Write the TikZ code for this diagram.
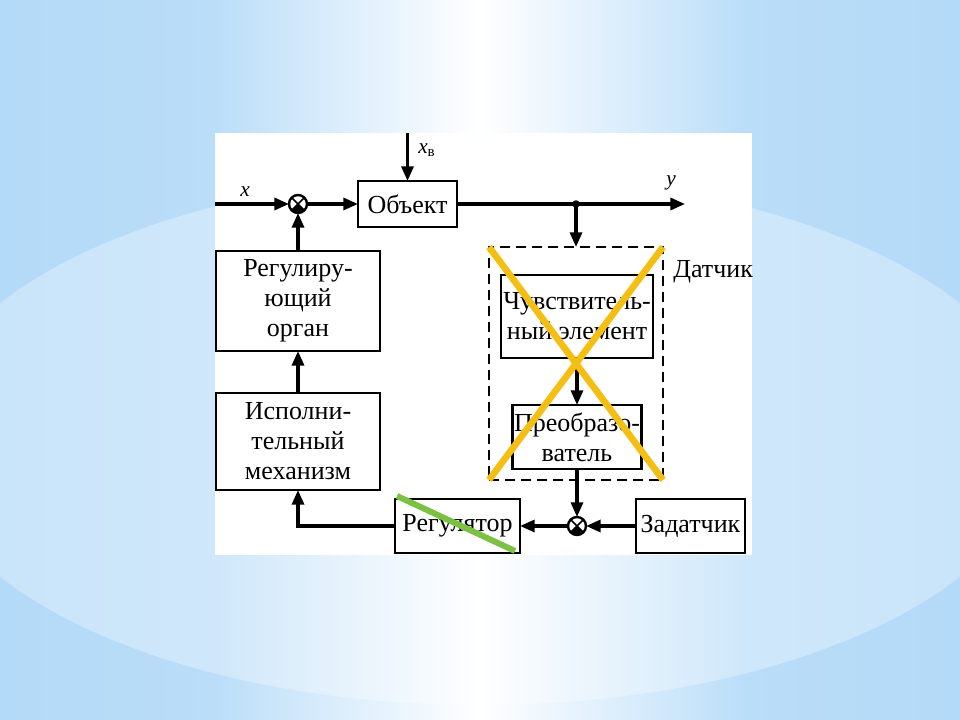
\documentclass[tikz,border=0pt]{standalone}
\usepackage{fontspec}
\setmainfont{Liberation Serif}
\usetikzlibrary{arrows.meta,calc}
\definecolor{bgb}{HTML}{A3D2F6}
\definecolor{xyel}{HTML}{F4BE12}
\definecolor{xgrn}{HTML}{7CC144}
\pgfdeclarehorizontalshading{bgsh}{100bp}{color(0bp)=(bgb); color(36bp)=(bgb!75!white); color(50bp)=(white); color(64bp)=(bgb!75!white); color(100bp)=(bgb)}
\begin{document}
\begin{tikzpicture}[x=0.75pt,y=-0.75pt,
  blk/.style={draw, line width=2.2pt, fill=white, align=center, inner sep=0pt, outer sep=0pt, font=\fontsize{19.5pt}{22.5pt}\selectfont},
  sumj/.style={circle, draw, line width=1.8pt, fill=white, minimum size=13.5pt, inner sep=0pt, outer sep=0pt},
  conn/.style={line width=2.4pt},
  arr/.style={conn, -{Triangle[length=11pt,width=9pt]}},
  lbl/.style={font=\fontsize{16pt}{18pt}\selectfont\itshape, inner sep=0pt},
  strike/.style={line width=5pt}]
\useasboundingbox (0,0) rectangle (960,720);
\begin{scope}
\clip (0,0) rectangle (960,720);
\shade[shading=bgsh] (0,0) rectangle (960,720);
\fill[white, opacity=0.3] (480,440) ellipse [x radius=560, y radius=265];
\end{scope}
\fill[white] (215,133) rectangle (752,555);

% dashed sensor frame
\node[draw, dash pattern=on 7.5pt off 4.5pt, line width=2.2pt, minimum width=130.5pt, minimum height=174.75pt, inner sep=0pt, outer sep=0pt] (dat) at (576,363.5) {};
\node[anchor=west, inner sep=0pt, font=\fontsize{19.5pt}{22.5pt}\selectfont] (datl) at (673,272) {Датчик};

% blocks
\node[blk, minimum width=74.25pt, minimum height=34.5pt] (obj) at (407.5,204) {Объект};
\node[blk, minimum width=123pt, minimum height=75pt] (reg) at (298,301) {Регулиру-\\ющий\\орган};
\node[blk, minimum width=123pt, minimum height=72.75pt] (isp) at (298,441.5) {Исполни-\\тельный\\механизм};
\node[blk, minimum width=114pt, minimum height=62.25pt] (chuv) at (577,316.5) {Чувствитель-\\ный элемент};
\node[blk, minimum width=96.75pt, minimum height=48pt] (preo) at (577,437) {Преобразо-\\ватель};
\node[blk, minimum width=93.75pt, minimum height=40.5pt] (regl) at (457.5,526) {Регулятор};
\node[blk, minimum width=81.75pt, minimum height=40.5pt] (zad) at (690.5,526) {Задатчик};

% summing junctions
\node[sumj] (s1) at (298,204) {};
\node[sumj] (s2) at (577,526) {};
\foreach \s in {s1,s2}{
  \fill (\s.center) -- (\s.-45) arc[start angle=-45, end angle=-135, radius=6.75pt] -- cycle;
  \draw[line width=1.3pt] (\s.45) -- (\s.-135) (\s.135) -- (\s.-45);
}

% connectors
\coordinate (xin) at (215,204);
\draw[arr] (xin) -- (s1.west);
\node[lbl] (xl) at (245,192) {x};
\draw[arr] (s1.east) -- (obj.west);
\coordinate (xvtop) at (407.5,133);
\draw[arr] (xvtop) -- (obj.north);
\node[lbl, anchor=west] (xvl) at (418,150) {x\textsubscript{\upshape в}};
\coordinate (yend) at (685,204);
\draw[arr] (obj.east) -- (yend);
\node[lbl] (yl) at (671,183) {y};
\coordinate (br) at (576,204);
\fill (br) circle (2.8pt);
\draw[arr] (br) -- (dat.north);
\draw[arr] (chuv.south) -- (chuv.south |- preo.north);
\draw[arr] (preo.south -| s2) -- (s2.north);
\draw[arr] (zad.west) -- (s2.east);
\draw[arr] (s2.west) -- (regl.east);
\draw[arr] (regl.west) -- (isp.south |- regl.west) -- (isp.south);
\draw[arr] (isp.north) -- (reg.south);
\draw[arr] (reg.north) -- (s1.south);

% strike marks
\draw[xyel, strike] (dat.north west) -- (dat.south east) (dat.north east) -- (dat.south west);
\draw[xgrn, line width=4.5pt] (397,496) -- (515,551);
\end{tikzpicture}
\end{document}
